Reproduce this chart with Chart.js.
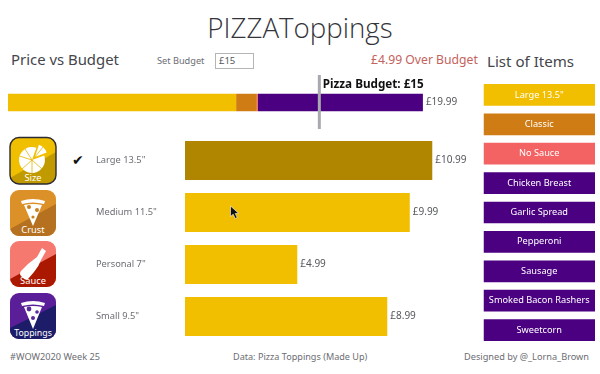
<!DOCTYPE html>
<html><head><meta charset="utf-8">
<script src="https://cdn.jsdelivr.net/npm/chart.js@4"></script>
<style>
html,body{margin:0;padding:0;background:#fff;width:600px;height:374px;overflow:hidden;font-family:"Noto Sans",sans-serif}
.t{position:absolute;white-space:nowrap;line-height:1}
canvas,svg{position:absolute}
svg text{font-family:"Noto Sans",sans-serif;fill:#fff;font-size:9.3px;text-anchor:middle}
</style></head><body>
<div class="t" style="left:0;width:600px;text-align:center;top:14px;font-size:27.700px;font-weight:300;color:#33353b;font-family:'Open Sans'" id="title">PIZZAToppings</div>
<div class="t" style="left:11px;top:52px;font-size:14.900px;color:#44464c">Price vs Budget</div>
<div class="t" style="left:157px;top:56px;font-size:9.200px;color:#6c6e74">Set Budget</div>
<div style="position:absolute;left:215px;top:53px;width:37px;height:14px;border:1px solid #b5b5b5"></div>
<div class="t" style="left:219px;top:56px;font-size:9.500px;color:#55575c">£15</div>
<div class="t" style="left:371px;top:54px;font-size:12.200px;color:#c4625c">£4.99 Over Budget</div>
<div class="t" style="left:487px;top:54px;font-size:15.100px;color:#44464c">List of Items</div>
<div class="t" style="left:10px;top:352px;font-size:9.200px;color:#6c6e74">#WOW2020 Week 25</div>
<div class="t" style="left:233px;top:352px;font-size:9.100px;color:#6c6e74">Data: Pizza Toppings (Made Up)</div>
<div class="t" style="left:464px;top:352px;font-size:9.200px;color:#6c6e74">Designed by @_Lorna_Brown</div>
<div class="t" style="left:72px;top:153px;font-size:14px;color:#111;font-family:'DejaVu Sans'">✔</div>

<svg style="left:0;top:0" width="600" height="374" viewBox="0 0 600 374">
 <defs>
  <clipPath id="c1"><rect x="10" y="137" width="46" height="47" rx="9"/></clipPath>
  <clipPath id="c2"><rect x="10" y="190" width="46" height="46" rx="9"/></clipPath>
  <clipPath id="c3"><rect x="10" y="241" width="46" height="46" rx="9"/></clipPath>
  <clipPath id="c4"><rect x="10" y="293" width="46" height="46" rx="9"/></clipPath>
 </defs>
 <!-- Size -->
 <g clip-path="url(#c1)">
  <rect x="10" y="137" width="46" height="47" fill="#f0bf00"/>
  <path d="M10 178 L56 152 V184 H10Z" fill="#c19a00"/>
 </g>
 <rect x="10" y="137.500" width="46" height="46.500" rx="9" fill="none" stroke="#2b2b33" stroke-width="1.400"/>
 <path d="M32 160 L36.400 147.800 A13 13 0 1 0 44.200 155.600 Z" fill="#fff"/>
 <path d="M35 157 L38.900 144.800 A13 13 0 0 1 46.700 152.600 Z" fill="#fff"/>
 <g stroke="#e3b400" stroke-width=".8"><path d="M32 160 L19.500 156M32 160 L22 169M32 160 L32 173M32 160 L42 169M32 160 L25 149M35 157 L43 147"/></g>
 <text x="33" y="181">Size</text>
 <!-- Crust -->
 <g clip-path="url(#c2)">
  <rect x="10" y="190" width="46" height="46" fill="#dc9028"/>
  <path d="M10 229 L56 204 V236 H10Z" fill="#b5711f"/>
 </g>
 <path d="M21 201 Q33 197 45 201 L44 204 Q33 201 22 204Z" fill="#fff"/>
 <path d="M24 205 Q33 203 42 205 L33 226Z" fill="#fff"/>
 <circle cx="29" cy="207" r="2" fill="#c9801f"/><circle cx="37" cy="210" r="2" fill="#c9801f"/><circle cx="33" cy="217" r="1.600" fill="#c9801f"/>
 <text x="33" y="232.500">Crust</text>
 <!-- Sauce -->
 <g clip-path="url(#c3)">
  <rect x="10" y="241" width="46" height="46" fill="#f6796f"/>
  <path d="M10 279 L56 254 V287 H10Z" fill="#ab1800"/>
 </g>
 <path d="M42 248 L46 251 L41 260 Q39 266 34 272 L28 279 Q26 281 23 278 L21 276 Q19 274 21 271 L28 264 Q33 260 37 257Z" fill="#fff"/>
 <text x="33" y="284">Sauce</text>
 <!-- Toppings -->
 <g clip-path="url(#c4)">
  <rect x="10" y="293" width="46" height="46" fill="#5a1e98"/>
  <path d="M10 328 L56 305 V339 H10Z" fill="#1c1c68"/>
 </g>
 <path d="M21 303 Q33 299 45 303 L44 306 Q33 303 22 306Z" fill="#fff"/>
 <path d="M24 307 Q33 305 42 307 L33 329Z" fill="#fff"/>
 <circle cx="29" cy="309" r="2.400" fill="#5a2a9c"/><circle cx="37" cy="312" r="1.800" fill="#5a2a9c"/><circle cx="33" cy="318" r="2" fill="#5a2a9c"/>
 <text x="33" y="335.500" style="font-size:8.800px">Toppings</text>
</svg>

<canvas id="top" width="467" height="65" style="left:8px;top:70px"></canvas>
<canvas id="sizes" width="382" height="209" style="left:96px;top:134px"></canvas>
<canvas id="items" width="112" height="265" style="left:483px;top:80px"></canvas>

<svg style="left:229px;top:205px" width="12" height="16" viewBox="0 0 12 16"><path d="M1.500 1 L1.500 11.500 L4.200 9.200 L6.200 13.500 L8.200 12.500 L6.200 8.500 L9.500 8.200Z" fill="#111" stroke="#fff" stroke-width=".6"/></svg>

<script>
const budget = 15;
const stackSeries = ["Large 13.5\"", "Classic", "No Sauce", "Toppings"];
const stackValues = [10.99, 1.0, 0.05, 7.95];
const stackTotal = 19.99;
const stackColors = ["#f2bf00", "#cf7c15", "#f46363", "#4b0082"];

const sizeNames = ["Large 13.5\"", "Medium 11.5\"", "Personal 7\"", "Small 9.5\""];
const sizePrices = [10.99, 9.99, 4.99, 8.99];
const sizeColors = ["#b08600", "#f2bf00", "#f2bf00", "#f2bf00"];

const itemNames = ["Large 13.5\"", "Classic", "No Sauce", "Chicken Breast", "Garlic Spread", "Pepperoni", "Sausage", "Smoked Bacon Rashers", "Sweetcorn"];
const itemValues = [1, 1, 1, 1, 1, 1, 1, 1, 1];
const itemColors = ["#f2bf00", "#cf7c15", "#f46363", "#4b0082", "#4b0082", "#4b0082", "#4b0082", "#4b0082", "#4b0082"];

const FONT = '"Noto Sans", sans-serif';
Chart.defaults.animation = false;
Chart.defaults.responsive = false;
Chart.defaults.font.family = FONT;
Chart.defaults.plugins.legend.display = false;
Chart.defaults.plugins.tooltip.enabled = false;

new Chart(document.getElementById('top'), {
  type: 'bar',
  data: {
    labels: ['Total'],
    datasets: stackSeries.map((s, i) => ({label: s, data: [stackValues[i]], backgroundColor: stackColors[i], borderWidth: 0}))
  },
  options: {
    indexAxis: 'y',
    layout: {padding: 0},
    datasets: {bar: {categoryPercentage: 1, barPercentage: 17.5 / 65}},
    scales: {
      x: {display: false, stacked: true, min: 0, max: 22.5},
      y: {display: false, stacked: true}
    }
  },
  plugins: [{
    id: 'budgetLine',
    afterDatasetsDraw(chart) {
      const c = chart.ctx, x = chart.scales.x.getPixelForValue(budget), a = chart.chartArea;
      c.save();
      c.fillStyle = '#a9a9b0';
      c.fillRect(x - 1.5, a.top + 5, 3, 54);
      c.fillStyle = '#111';
      c.font = 'bold 11.7px ' + FONT;
      c.textBaseline = 'middle';
      c.fillText('Pizza Budget: £' + budget, x + 3.5, a.top + 15);
      c.fillStyle = '#55575c';
      c.font = '10px ' + FONT;
      c.fillText('£' + stackTotal.toFixed(2), chart.scales.x.getPixelForValue(stackTotal) + 3, a.top + 32);
      c.restore();
    }
  }]
});

new Chart(document.getElementById('sizes'), {
  type: 'bar',
  data: {labels: sizeNames, datasets: [{data: sizePrices, backgroundColor: sizeColors, borderWidth: 0}]},
  options: {
    indexAxis: 'y',
    layout: {padding: {top: .5, bottom: .5, right: .5}},
    datasets: {bar: {categoryPercentage: 1, barPercentage: .75}},
    scales: {
      x: {display: false, min: 0, max: 13},
      y: {
        afterFit(s) { s.width = 89; s.paddingTop = 0; s.paddingBottom = 0; },
        grid: {display: false, drawTicks: false},
        border: {display: false},
        ticks: {crossAlign: 'far', padding: 0, color: '#6c6e74', font: {size: 9.3}}
      }
    }
  },
  plugins: [{
    id: 'priceLabels',
    afterDatasetsDraw(chart) {
      const c = chart.ctx;
      c.save();
      c.fillStyle = '#55575c';
      c.font = '10px ' + FONT;
      c.textBaseline = 'middle';
      chart.getDatasetMeta(0).data.forEach((b, i) => c.fillText('£' + sizePrices[i].toFixed(2), b.x + 3, b.y - .5));
      c.restore();
    }
  }]
});

new Chart(document.getElementById('items'), {
  type: 'bar',
  data: {labels: itemNames, datasets: [{data: itemValues, backgroundColor: itemColors, borderWidth: 0}]},
  options: {
    indexAxis: 'y',
    layout: {padding: {top: .3, bottom: .3, left: .5}},
    datasets: {bar: {categoryPercentage: 1, barPercentage: .74}},
    scales: {x: {display: false, min: 0, max: 1}, y: {display: false}}
  },
  plugins: [{
    id: 'itemLabels',
    afterDatasetsDraw(chart) {
      const c = chart.ctx, a = chart.chartArea;
      c.save();
      c.fillStyle = '#fff';
      c.font = '9.2px ' + FONT;
      c.textAlign = 'center';
      c.textBaseline = 'middle';
      chart.getDatasetMeta(0).data.forEach((b, i) => c.fillText(itemNames[i], (a.left + a.right) / 2, b.y));
      c.restore();
    }
  }]
});
</script>
</body></html>
